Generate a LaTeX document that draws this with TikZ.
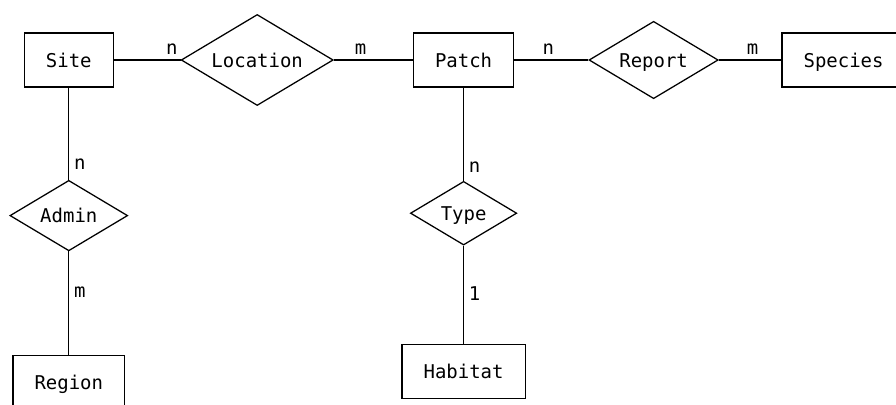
\documentclass[tikz,border=0pt]{standalone}
\usepackage{fontspec}
\setmonofont{DejaVu Sans Mono}
\usetikzlibrary{shapes.geometric}

\begin{document}
\begin{tikzpicture}[
    every node/.style={font=\fontsize{13.5pt}{16pt}\selectfont\ttfamily},
    entity/.style={draw, line width=0.9pt, minimum height=1.35cm, inner xsep=0.54cm,
                   text height=0.405cm, text depth=0.055cm},
    rel/.style={draw, diamond, aspect=1.67, line width=0.9pt, inner sep=0.14cm,
                text height=0.405cm, text depth=0.055cm},
    link/.style={line width=0.9pt}
]
\useasboundingbox (0,0) rectangle (22.4,-10.1);

% entities
\node[entity] (site) at (1.72,-1.5) {Site};
\node[entity] (patch) at (11.59,-1.5) {Patch};
\node[entity] (species) at (21.09,-1.5) {Species};
\node[entity] (region) at (1.72,-9.57) {Region};
\node[entity] (habitat) at (11.59,-9.29) {Habitat};

% relationships
\node[rel] (location) at (6.43,-1.5) {Location};
\node[rel] (report) at (16.34,-1.5) {Report};
\node[rel] (admin) at (1.72,-5.39) {Admin};
\node[rel] (type) at (11.59,-5.33) {Type};

\draw[link] (site) -- node[pos=0.87, above] {n} (location);
\draw[link] (location) -- node[pos=0.34, above] {m} (patch);
\draw[link] (patch) -- node[pos=0.46, above] {n} (report);
\draw[link] (report) -- node[pos=0.54, above] {m} (species);
\draw[link] (site) -- node[pos=0.83, right] {n} (admin);
\draw[link] (admin) -- node[pos=0.39, right] {m} (region);
\draw[link] (patch) -- node[pos=0.85, right] {n} (type);
\draw[link] (type) -- node[pos=0.49, right] {1} (habitat);
\end{tikzpicture}
\end{document}
